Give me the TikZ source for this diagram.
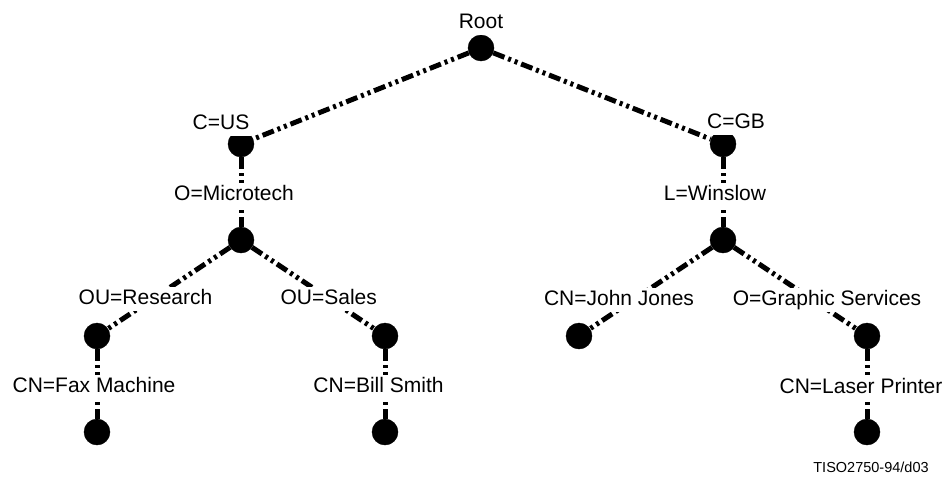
\documentclass[tikz,border=0pt]{standalone}
\usepackage{fontspec}
\setmainfont{Liberation Sans}

\begin{document}
\begin{tikzpicture}[x=1pt, y=-1pt,
  dot/.style={draw, circle, fill=black, inner sep=0pt, minimum size=26pt},
  lbl/.style={fill=white, inner sep=1.5pt, text height=16pt, text depth=5pt, anchor=base, font=\fontsize{21}{24}\selectfont},
  link/.style={line width=5pt, dash pattern=on 12pt off 4pt on 3pt off 4pt on 3pt off 4pt}]

\useasboundingbox (0,0) rectangle (945,477);

% Define the entry nodes
\node[dot] (root) at (481, 48) {};
\node[dot] (us) at (241, 144) {};
\node[dot] (gb) at (723, 144) {};
\node[dot] (microtech) at (241, 240) {};
\node[dot] (winslow) at (723, 240) {};
\node[dot] (research) at (97, 336) {};
\node[dot] (sales) at (385, 336) {};
\node[dot] (jones) at (579, 336) {};
\node[dot] (graphic) at (867, 336) {};
\node[dot] (fax) at (97, 432) {};
\node[dot] (smith) at (385, 432) {};
\node[dot] (printer) at (867, 432) {};

% Connect the entries
\draw[link] (root) -- (us);
\draw[link] (root) -- (gb);
\draw[link] (us) -- (microtech);
\draw[link] (gb) -- (winslow);
\draw[link] (microtech) -- (research);
\draw[link] (microtech) -- (sales);
\draw[link] (winslow) -- (jones);
\draw[link] (winslow) -- (graphic);
\draw[link] (research) -- (fax);
\draw[link] (sales) -- (smith);
\draw[link] (graphic) -- (printer);

% Distinguished names
\node[lbl] (lroot) at (481, 28.5) {Root};
\node[lbl] (lus) at (221, 129.5) {C=US};
\node[lbl] (lgb) at (736, 128.5) {C=GB};
\node[lbl] (lmicrotech) at (234, 200) {O=Microtech};
\node[lbl] (lwinslow) at (715, 200) {L=Winslow};
\node[lbl] (lresearch) at (145.5, 304.5) {OU=Research};
\node[lbl] (lsales) at (328.7, 304.5) {OU=Sales};
\node[lbl] (ljones) at (619, 305) {CN=John Jones};
\node[lbl] (lgraphic) at (827, 305) {O=Graphic Services};
\node[lbl] (lfax) at (94, 392.5) {CN=Fax Machine};
\node[lbl] (lsmith) at (378.5, 392.5) {CN=Bill Smith};
\node[lbl] (lprinter) at (861, 393) {CN=Laser Printer};

\node[anchor=base, inner sep=0pt, font=\fontsize{14.5}{17}\selectfont] (tag) at (871, 472) {TISO2750-94/d03};

\end{tikzpicture}
\end{document}
